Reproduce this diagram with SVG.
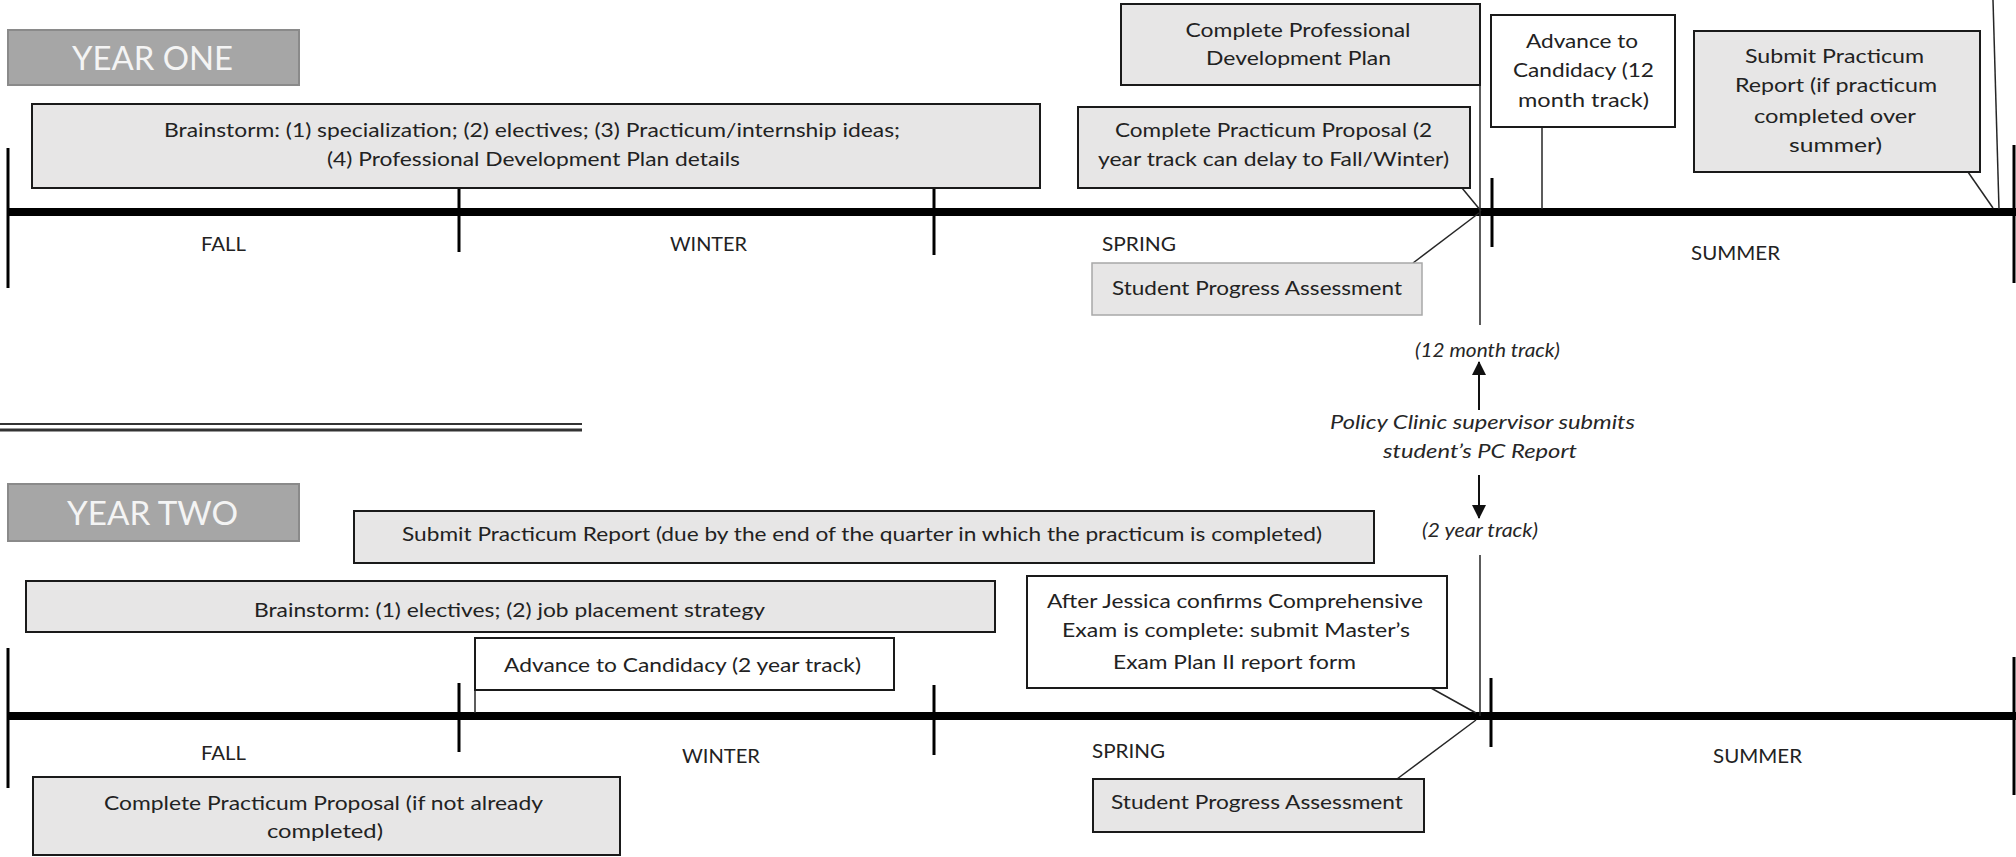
<svg xmlns="http://www.w3.org/2000/svg" width="2016" height="857" viewBox="0 0 2016 857">
<style>
.t{font-family:Lato,"Liberation Sans",sans-serif;font-size:20px;fill:#222222;text-anchor:middle}
.i{font-family:Lato,"Liberation Sans",sans-serif;font-size:19px;font-style:italic;fill:#262626;text-anchor:middle}
.yr{font-family:Lato,"Liberation Sans",sans-serif;font-weight:400;font-size:32px;fill:#f4f4f4;text-anchor:middle}
.lab{fill:#a6a6a6;stroke:#8a8a8a;stroke-width:2}
.g{fill:#e7e6e6;stroke:#1a1a1a;stroke-width:2}
.gl{fill:#e7e6e6;stroke:#a8a8a8;stroke-width:1.5}
.w{fill:#ffffff;stroke:#1a1a1a;stroke-width:2}
.main{stroke:#000;stroke-width:8;fill:none}
.tick{stroke:#000;stroke-width:3;fill:none}
.c{stroke:#262626;stroke-width:1.5;fill:none}
.sep{stroke:#333;fill:none}
</style>
<defs>
<marker id="ah" markerUnits="userSpaceOnUse" markerWidth="14" markerHeight="14" viewBox="0 0 14 14" refX="13" refY="7" orient="auto">
<path d="M0,0 L14,7 L0,14 Z" fill="#111"/>
</marker>
</defs>

<g id="timelines">
<line class="main" x1="8" y1="212" x2="2016" y2="212"/>
<line class="tick" x1="8" y1="148" x2="8" y2="288"/>
<line class="tick" x1="459" y1="188" x2="459" y2="252"/>
<line class="tick" x1="934" y1="188" x2="934" y2="255"/>
<line class="tick" x1="1492" y1="178" x2="1492" y2="247"/>
<line class="tick" x1="2014" y1="145" x2="2014" y2="283"/>
<text class="t" x="223.5" y="251" textLength="45" lengthAdjust="spacingAndGlyphs">FALL</text>
<text class="t" x="708.5" y="251" textLength="77" lengthAdjust="spacingAndGlyphs">WINTER</text>
<text class="t" x="1139" y="251" textLength="74" lengthAdjust="spacingAndGlyphs">SPRING</text>
<text class="t" x="1735.5" y="260" textLength="89" lengthAdjust="spacingAndGlyphs">SUMMER</text>

<line class="main" x1="8" y1="716" x2="2016" y2="716"/>
<line class="tick" x1="8" y1="648" x2="8" y2="788"/>
<line class="tick" x1="459" y1="683" x2="459" y2="752"/>
<line class="tick" x1="934" y1="685" x2="934" y2="755"/>
<line class="tick" x1="1491" y1="678" x2="1491" y2="747"/>
<line class="tick" x1="2014" y1="657" x2="2014" y2="795"/>
<text class="t" x="223.5" y="760" textLength="45" lengthAdjust="spacingAndGlyphs">FALL</text>
<text class="t" x="721" y="763" textLength="78" lengthAdjust="spacingAndGlyphs">WINTER</text>
<text class="t" x="1128.5" y="758" textLength="73" lengthAdjust="spacingAndGlyphs">SPRING</text>
<text class="t" x="1757.5" y="763" textLength="89" lengthAdjust="spacingAndGlyphs">SUMMER</text>

<line class="sep" x1="0" y1="424" x2="582" y2="424" stroke-width="2"/>
<line class="sep" x1="0" y1="430" x2="582" y2="430" stroke-width="3"/>
</g>

<g id="connectors">
<line class="c" x1="1480" y1="85" x2="1480" y2="325"/>
<line class="c" x1="1462" y1="188" x2="1481" y2="211"/>
<line class="c" x1="1413" y1="263" x2="1479" y2="213"/>
<line class="c" x1="1542" y1="127" x2="1542" y2="209"/>
<line class="c" x1="1968" y1="172" x2="1993" y2="208"/>
<line class="c" x1="1993" y1="0" x2="1999" y2="209"/>
<line class="c" x1="1480" y1="555" x2="1480" y2="716"/>
<line class="c" x1="475" y1="690" x2="475" y2="713"/>
<line class="c" x1="1431" y1="688" x2="1476" y2="713"/>
<line class="c" x1="1397" y1="779" x2="1476" y2="720"/>
<line stroke="#111" stroke-width="2" x1="1479" y1="410" x2="1479" y2="362" marker-end="url(#ah)"/>
<line stroke="#111" stroke-width="2" x1="1479" y1="475" x2="1479" y2="518" marker-end="url(#ah)"/>
</g>

<g id="pc-note">
<text class="i" x="1487.5" y="357" textLength="145" lengthAdjust="spacingAndGlyphs">(12 month track)</text>
<text class="i" x="1482.5" y="429" textLength="305" lengthAdjust="spacingAndGlyphs">Policy Clinic supervisor submits</text>
<text class="i" x="1480" y="458" textLength="194" lengthAdjust="spacingAndGlyphs">student’s PC Report</text>
<text class="i" x="1480" y="537" textLength="116" lengthAdjust="spacingAndGlyphs">(2 year track)</text>
</g>

<g id="year-one-label">
<rect class="lab" x="8" y="30" width="291" height="55"/>
<text class="yr" x="152.5" y="70" textLength="161" lengthAdjust="spacingAndGlyphs">YEAR ONE</text>
</g>
<g id="y1-brainstorm">
<rect class="g" x="32" y="104" width="1008" height="84"/>
<text class="t" x="532" y="137" textLength="736" lengthAdjust="spacingAndGlyphs">Brainstorm: (1) specialization; (2) electives; (3) Practicum/internship ideas;</text>
<text class="t" x="533.5" y="166" textLength="413" lengthAdjust="spacingAndGlyphs">(4) Professional Development Plan details</text>
</g>
<g id="y1-pdp">
<rect class="g" x="1121" y="4" width="359" height="81"/>
<text class="t" x="1298" y="37" textLength="225" lengthAdjust="spacingAndGlyphs">Complete Professional</text>
<text class="t" x="1298.5" y="65" textLength="185" lengthAdjust="spacingAndGlyphs">Development Plan</text>
</g>
<g id="y1-proposal">
<rect class="g" x="1078" y="107" width="392" height="81"/>
<text class="t" x="1273.5" y="137" textLength="317" lengthAdjust="spacingAndGlyphs">Complete Practicum Proposal (2</text>
<text class="t" x="1273.5" y="166" textLength="351" lengthAdjust="spacingAndGlyphs">year track can delay to Fall/Winter)</text>
</g>
<g id="y1-spa">
<rect class="gl" x="1092" y="263" width="330" height="52"/>
<text class="t" x="1257" y="295" textLength="290" lengthAdjust="spacingAndGlyphs">Student Progress Assessment</text>
</g>
<g id="y1-advance">
<rect class="w" x="1491" y="15" width="184" height="112"/>
<text class="t" x="1582" y="48" textLength="112" lengthAdjust="spacingAndGlyphs">Advance to</text>
<text class="t" x="1583.5" y="77" textLength="141" lengthAdjust="spacingAndGlyphs">Candidacy (12</text>
<text class="t" x="1583.5" y="107" textLength="131" lengthAdjust="spacingAndGlyphs">month track)</text>
</g>
<g id="y1-submit">
<rect class="g" x="1694" y="31" width="286" height="141"/>
<text class="t" x="1834.5" y="63" textLength="179" lengthAdjust="spacingAndGlyphs">Submit Practicum</text>
<text class="t" x="1836" y="92" textLength="202" lengthAdjust="spacingAndGlyphs">Report (if practicum</text>
<text class="t" x="1835" y="123" textLength="162" lengthAdjust="spacingAndGlyphs">completed over</text>
<text class="t" x="1835.5" y="152" textLength="93" lengthAdjust="spacingAndGlyphs">summer)</text>
</g>

<g id="year-two-label">
<rect class="lab" x="8" y="484" width="291" height="57"/>
<text class="yr" x="152.5" y="525" textLength="171" lengthAdjust="spacingAndGlyphs">YEAR TWO</text>
</g>
<g id="y2-submit">
<rect class="g" x="354" y="511" width="1020" height="52"/>
<text class="t" x="862" y="541" textLength="920" lengthAdjust="spacingAndGlyphs">Submit Practicum Report (due by the end of the quarter in which the practicum is completed)</text>
</g>
<g id="y2-brainstorm">
<rect class="g" x="26" y="581" width="969" height="51"/>
<text class="t" x="509.5" y="617" textLength="511" lengthAdjust="spacingAndGlyphs">Brainstorm: (1) electives; (2) job placement strategy</text>
</g>
<g id="y2-advance">
<rect class="w" x="475" y="638" width="419" height="52"/>
<text class="t" x="682.5" y="672" textLength="357" lengthAdjust="spacingAndGlyphs">Advance to Candidacy (2 year track)</text>
</g>
<g id="y2-proposal">
<rect class="g" x="33" y="777" width="587" height="78"/>
<text class="t" x="323.5" y="810" textLength="439" lengthAdjust="spacingAndGlyphs">Complete Practicum Proposal (if not already</text>
<text class="t" x="325" y="838" textLength="116" lengthAdjust="spacingAndGlyphs">completed)</text>
</g>
<g id="y2-exam">
<rect class="w" x="1027" y="576" width="420" height="112"/>
<text class="t" x="1235" y="608" textLength="376" lengthAdjust="spacingAndGlyphs">After Jessica confirms Comprehensive</text>
<text class="t" x="1236" y="637" textLength="348" lengthAdjust="spacingAndGlyphs">Exam is complete: submit Master’s</text>
<text class="t" x="1234.5" y="669" textLength="243" lengthAdjust="spacingAndGlyphs">Exam Plan II report form</text>
</g>
<g id="y2-spa">
<rect class="g" x="1093" y="779" width="331" height="53"/>
<text class="t" x="1257" y="809" textLength="292" lengthAdjust="spacingAndGlyphs">Student Progress Assessment</text>
</g>
</svg>
